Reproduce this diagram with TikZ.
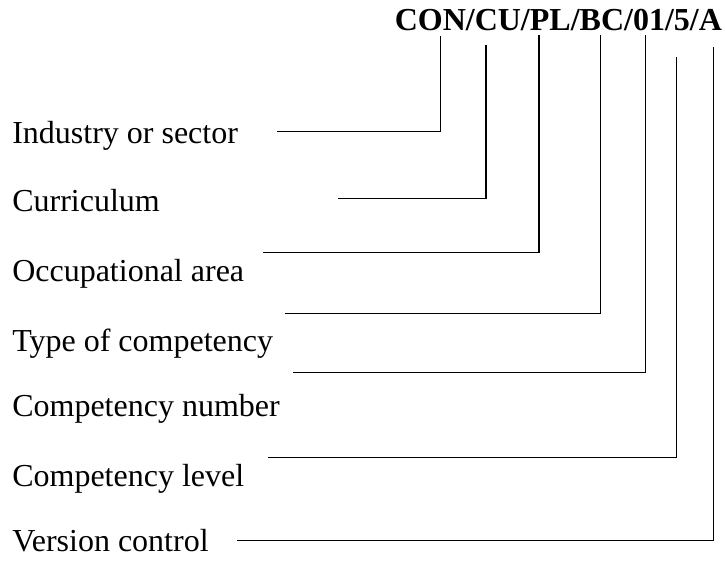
\documentclass[tikz,border=0pt]{standalone}
\usepackage{fontspec}
\setmainfont{Liberation Serif}
\usetikzlibrary{positioning}

\begin{document}
\begin{tikzpicture}[x=0.75pt, y=-0.75pt,
                      every node/.style = {inner sep=0pt, anchor=base west,
                        font=\fontsize{24}{28}\selectfont},
                      code/.style = {font=\fontsize{24}{28}\selectfont\bfseries},
                      link/.style = {line width=1.1pt}]
                      \useasboundingbox (0,0) rectangle (725,569);
                      % the code and its parts
                      \node[code] (code) at (394.5,30.5) {CON/CU/PL/BC/01/5/A};
                      \node (sector) at (12,143) {Industry or sector};
                      \node (curric) at (12,211.5) {Curriculum};
                      \node (occup) at (12,281) {Occupational area};
                      \node (type) at (12,351) {Type of competency};
                      \node (number) at (12,416) {Competency number};
                      \node (level) at (12,486.5) {Competency level};
                      \node (version) at (12,551) {Version control};
                      % line ends
                      \coordinate (sector-in) at (277,131.7);
                      \coordinate (sector-up) at (440.5,36);
                      \coordinate (curric-in) at (338,198.3);
                      \coordinate (curric-up) at (486,45);
                      \coordinate (occup-in) at (263,252.3);
                      \coordinate (occup-up) at (539,35);
                      \coordinate (type-in) at (285,313.3);
                      \coordinate (type-up) at (600.7,35);
                      \coordinate (number-in) at (293,372.7);
                      \coordinate (number-up) at (645.5,35);
                      \coordinate (level-in) at (268,457.3);
                      \coordinate (level-up) at (676.5,57);
                      \coordinate (version-in) at (237,540.7);
                      \coordinate (version-up) at (713.3,47);
                      % leaders
                      \draw[link] (sector-in) -| (sector-up);
                      \draw[link] (curric-in) -| (curric-up);
                      \draw[link] (occup-in) -| (occup-up);
                      \draw[link] (type-in) -| (type-up);
                      \draw[link] (number-in) -| (number-up);
                      \draw[link] (level-in) -| (level-up);
                      \draw[link] (version-in) -| (version-up);
\end{tikzpicture}
\end{document}
